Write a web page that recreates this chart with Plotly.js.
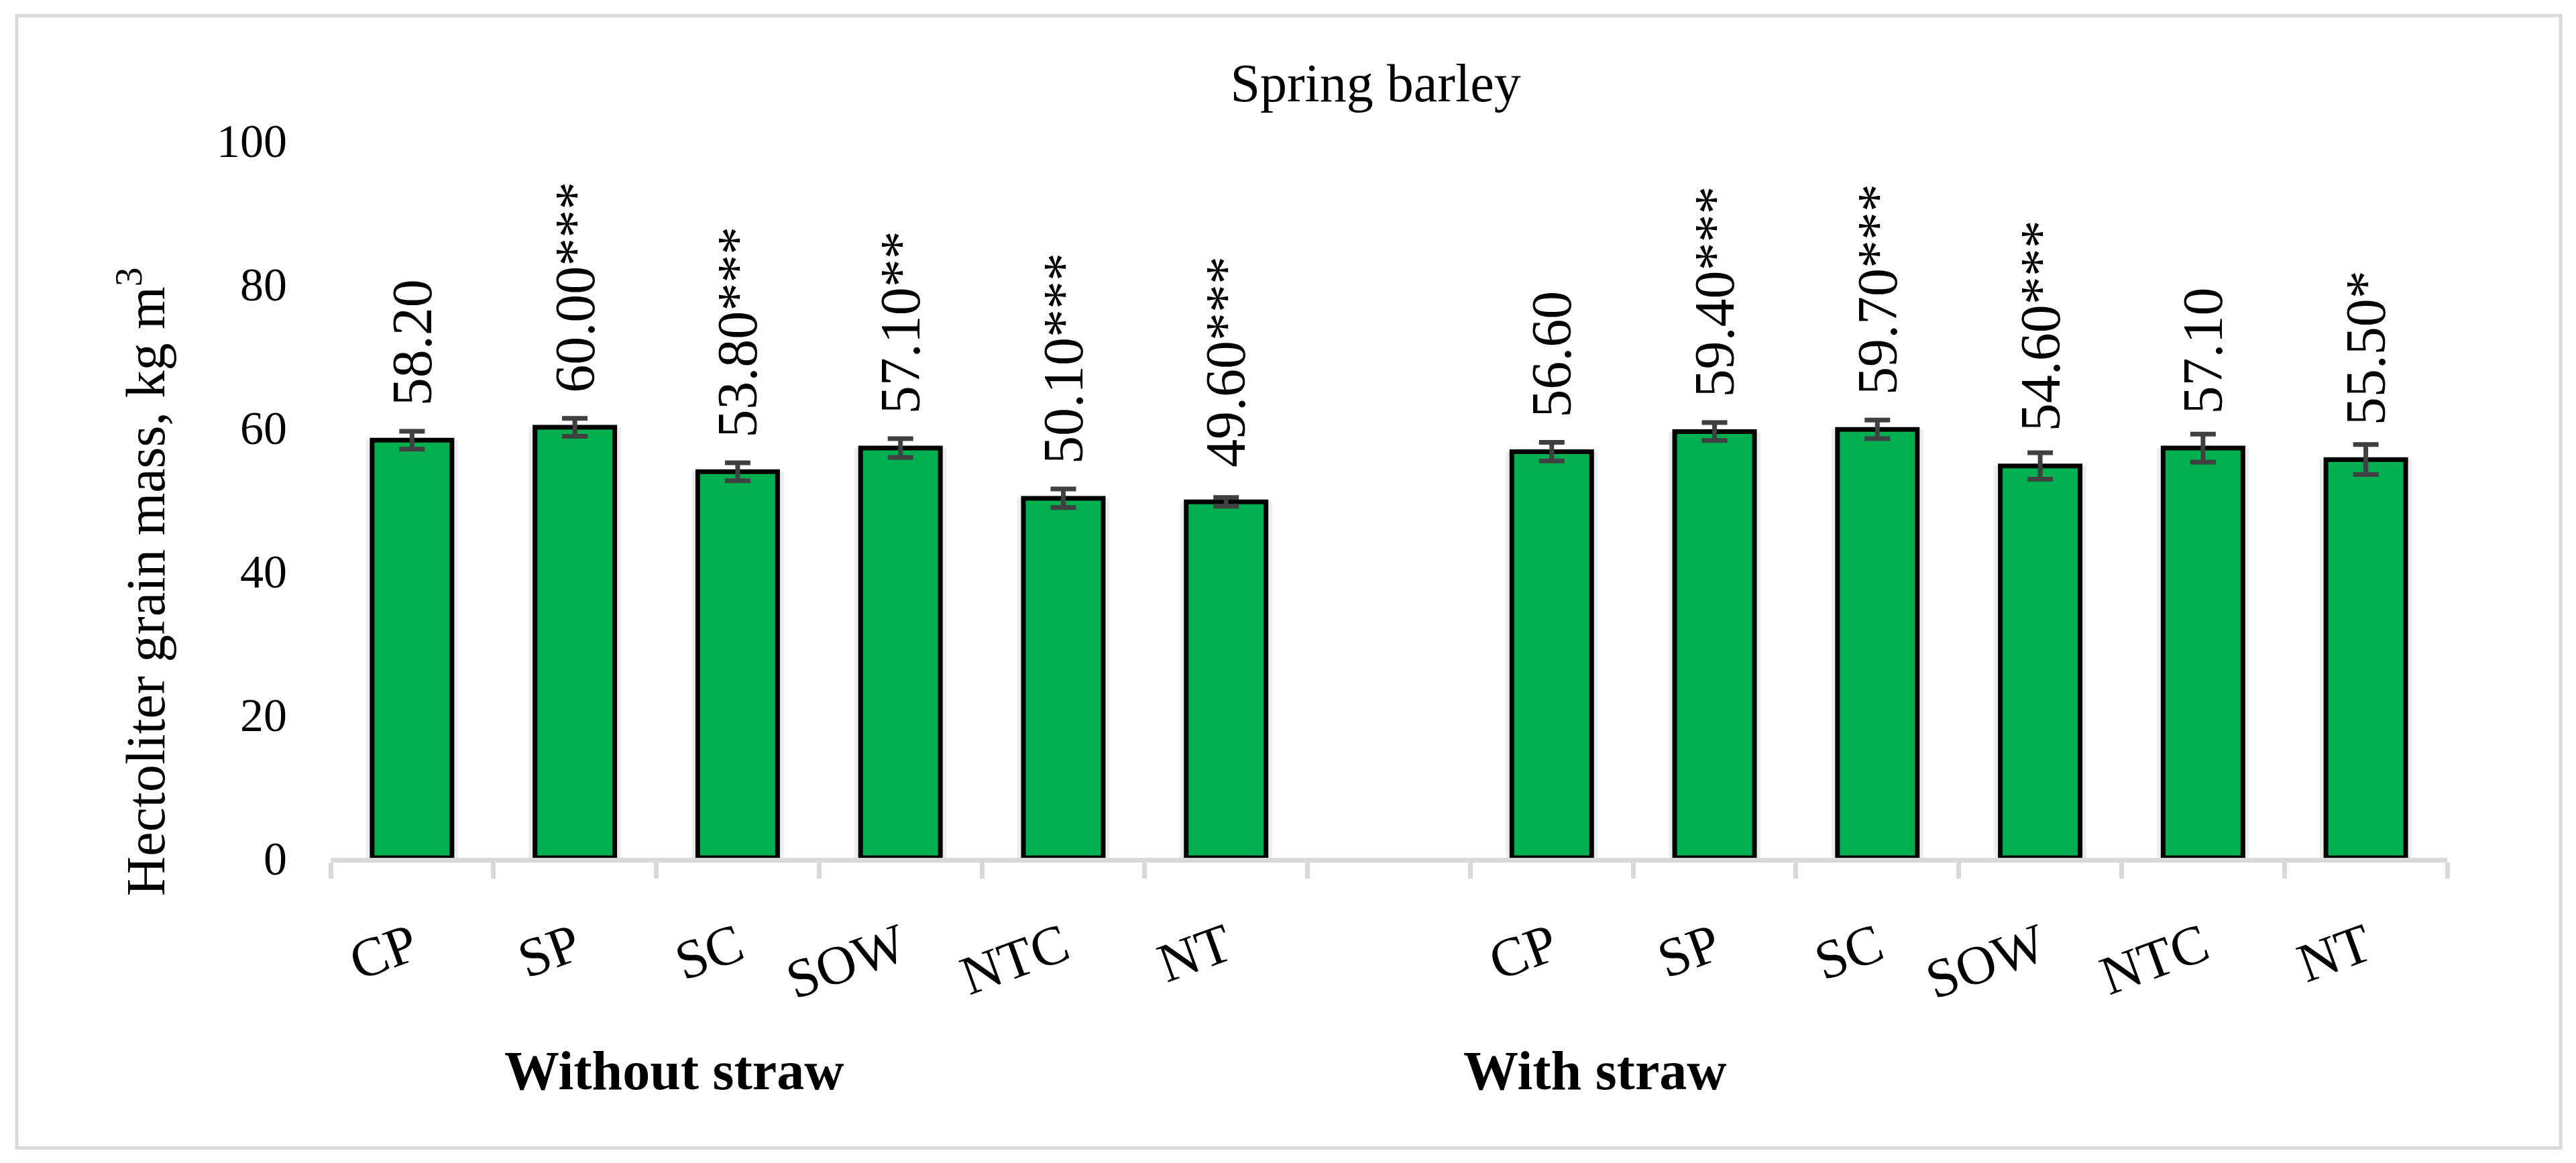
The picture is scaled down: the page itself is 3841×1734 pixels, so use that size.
<!DOCTYPE html>
<html>
<head>
<meta charset="utf-8">
<script src="https://cdn.plot.ly/plotly-3.0.1.min.js"></script>
<style>
  html, body { margin: 0; padding: 0; background: #ffffff; }
  #chart { width: 3841px; height: 1734px; }
</style>
</head>
<body>
<div id="chart"></div>
<script>
// ---- data ----
const chartTitle = "Spring barley";
const yTitle = "Hectoliter grain mass, kg m<sup>3</sup>";
const groups = ["Without straw", "With straw"];
const treatments = ["CP", "SP", "SC", "SOW", "NTC", "NT"];
const valuesWithout = [58.20, 60.00, 53.80, 57.10, 50.10, 49.60];
const valuesWith    = [56.60, 59.40, 59.70, 54.60, 57.10, 55.50];
const errWithout = [1.25, 1.25, 1.25, 1.3, 1.3, 0.6];
const errWith    = [1.3, 1.25, 1.3, 1.85, 1.95, 2.1];
const sigWithout = ["", "***", "***", "**", "***", "***"];
const sigWith    = ["", "***", "***", "***", "", "*"];
const yTicks = [0, 20, 40, 60, 80, 100];

// ---- build traces ----
const groupValues = [valuesWithout, valuesWith];
const groupErrs = [errWithout, errWith];
const groupSigs = [sigWithout, sigWith];
const gapKey = "gap";

const xs = [], ys = [], es = [], tickvals = [], ticktext = [], labels = [];
groups.forEach((g, gi) => {
  if (gi > 0) {
    xs.push(gapKey); ys.push(null); es.push(null);
    tickvals.push(gapKey); ticktext.push(" ");
  }
  treatments.forEach((t, ti) => {
    const key = g + "|" + t;
    xs.push(key);
    ys.push(groupValues[gi][ti]);
    es.push(groupErrs[gi][ti]);
    tickvals.push(key);
    ticktext.push(t);
    labels.push({ x: key, y: groupValues[gi][ti],
                  text: groupValues[gi][ti].toFixed(2) + groupSigs[gi][ti] });
  });
});

const serif = "Liberation Serif";
const barWidth = 0.49;

// soft halo behind the bars (like the Excel shadow)
const halo = {
  type: "bar", x: xs, y: ys, width: barWidth + 0.075,
  marker: { color: "rgba(0,0,0,0.07)", line: { width: 0 } },
  hoverinfo: "skip", showlegend: false
};

const bars = {
  type: "bar",
  x: xs,
  y: ys,
  width: barWidth,
  marker: { color: "#00B050", line: { color: "#000000", width: 7 } },
  error_y: { type: "data", array: es, visible: true, color: "#404040", thickness: 7, width: 19 },
  hoverinfo: "skip",
  showlegend: false
};

const annotations = labels.map(l => ({
  x: l.x, y: l.y, xref: "x", yref: "y",
  text: l.text, textangle: -90, showarrow: false,
  xanchor: "center", yanchor: "bottom", yshift: 49,
  font: { family: serif, size: 84, color: "#000000" }
}));

annotations.push({
  xref: "paper", yref: "paper", x: -0.0894, y: 0.385,
  text: yTitle, textangle: -90, showarrow: false,
  xanchor: "center", yanchor: "middle",
  font: { family: serif, size: 82, color: "#000000" }
});
const groupLabelX = [0.1622, 0.5973];
groups.forEach((g, gi) => {
  annotations.push({
    xref: "paper", yref: "paper", x: groupLabelX[gi], y: -0.297,
    text: "<b>" + g + "</b>", showarrow: false,
    xanchor: "center", yanchor: "middle",
    font: { family: serif, size: 82, color: "#000000" }
  });
});

const layout = {
  width: 3841, height: 1734,
  paper_bgcolor: "#ffffff", plot_bgcolor: "#ffffff",
  margin: { l: 493, r: 192, t: 209, b: 455, pad: 0 },
  barmode: "overlay",
  title: {
    text: chartTitle, xref: "container", yref: "container",
    x: 0.534, xanchor: "center", y: 0.929, yanchor: "middle",
    font: { family: serif, size: 80, color: "#000000" }
  },
  xaxis: {
    type: "category",
    categoryorder: "array", categoryarray: tickvals,
    tickmode: "array", tickvals: tickvals, ticktext: ticktext,
    range: [-0.5, tickvals.length - 0.5],
    showline: true, linecolor: "#d9d9d9", linewidth: 7,
    ticks: "outside", tickson: "boundaries", ticklen: 24, tickwidth: 7, tickcolor: "#d9d9d9",
    tickangle: -20, ticklabelstandoff: 46,
    tickfont: { family: serif, size: 82, color: "#000000" },
    showgrid: false, zeroline: false, fixedrange: true
  },
  yaxis: {
    range: [0, 100], tickmode: "array", tickvals: yTicks,
    showline: false, showgrid: false, zeroline: false, ticks: "",
    ticklabelstandoff: 64,
    tickfont: { family: serif, size: 70, color: "#000000" },
    fixedrange: true
  },
  annotations: annotations,
  shapes: [{
    type: "rect", xref: "paper", yref: "paper",
    x0: -0.1483, x1: 1.0536, y0: -0.4043, y1: 1.1737,
    line: { color: "#d9d9d9", width: 5 }, fillcolor: "rgba(0,0,0,0)", layer: "below"
  }]
};

Plotly.newPlot("chart", [halo, bars], layout, { displayModeBar: false, staticPlot: true });
</script>
</body>
</html>
